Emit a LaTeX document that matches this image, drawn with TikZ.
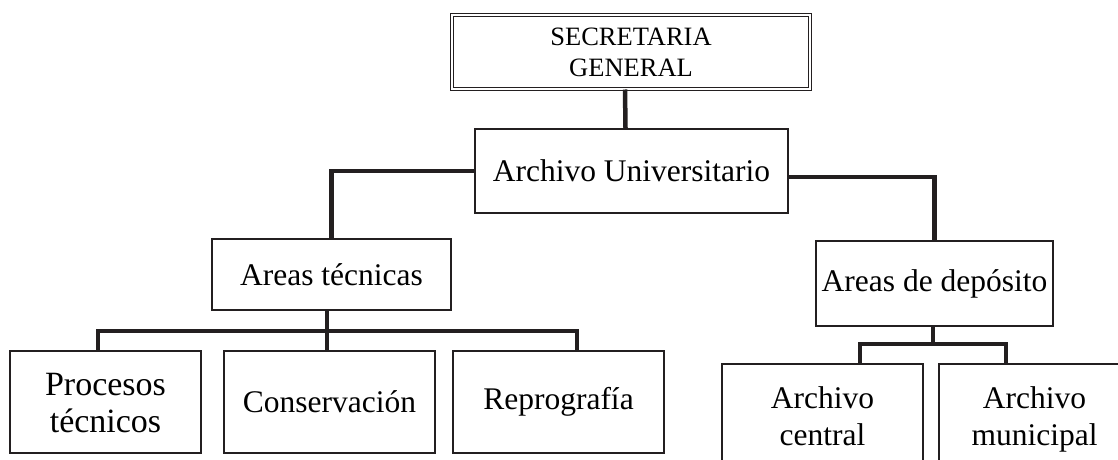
\documentclass[tikz,border=0pt]{standalone}
\usepackage{fontspec}
\setmainfont{Liberation Serif}
\definecolor{ink}{RGB}{35,31,32}

\begin{document}
\begin{tikzpicture}[x=1pt, y=-1pt, box/.style = {shape=rectangle,
	draw=ink, line width=1.5pt, align=center, inner sep=0pt,
	font=\fontsize{31.5}{37}\selectfont},
	twoline/.style = {text height=61pt, text depth=0pt},
	link/.style = {draw=ink, line width=4.5pt}]
\useasboundingbox (0,0) rectangle (1118,460);
\clip (0,0) rectangle (1118,460);

\node[box, double=white, double distance=1.5pt, line width=1pt,
  minimum width=358pt, minimum height=74pt, text height=50pt, text depth=0pt,
  font=\fontsize{26.5}{31}\selectfont] (SG) at (631,52) {SECRETARIA\\GENERAL};
\node[box, minimum width=313pt, minimum height=84pt] (AU) at (631.5,171) {Archivo Universitario};
\node[box, minimum width=239pt, minimum height=71pt] (AT) at (331.5,274.5) {Areas técnicas};
\node[box, minimum width=237pt, minimum height=85pt] (AD) at (934.5,283.5) {Areas de depósito};
\node[box, twoline, minimum width=191pt, minimum height=102pt,
  font=\fontsize{34}{37}\selectfont] (PT) at (105.5,402) {Procesos\\técnicos};
\node[box, minimum width=211pt, minimum height=102pt] (CO) at (329.5,402) {Conservación};
\node[box, minimum width=211pt, minimum height=102pt] (RE) at (558.5,402) {Reprografía};
\node[box, twoline, minimum width=201pt, minimum height=102pt] (AC) at (822.5,415) {Archivo\\central};
\node[box, twoline, minimum width=191pt, minimum height=102pt] (AM) at (1034.5,415) {Archivo\\municipal};

\draw[link] ([xshift=-6pt]SG.south) -- ([xshift=-6pt]AU.north);
\draw[link] (AU.west) -| (AT.north);
\draw[link] ([yshift=-6pt]AU.east) -| (AD.north);

\coordinate (TB) at (327,331);
\draw[link] ([xshift=-4.5pt]AT.south) -- (TB) -- (TB |- CO.north);
\draw[link] ([xshift=-7.5pt]PT.north) |- (TB) -| ([xshift=18.5pt]RE.north);

\coordinate (DB) at (933,344);
\draw[link] ([xshift=-1.5pt]AD.south) -- (DB);
\draw[link] ([xshift=37.5pt]AC.north) |- (DB) -| ([xshift=-28.5pt]AM.north);
\end{tikzpicture}
\end{document}
